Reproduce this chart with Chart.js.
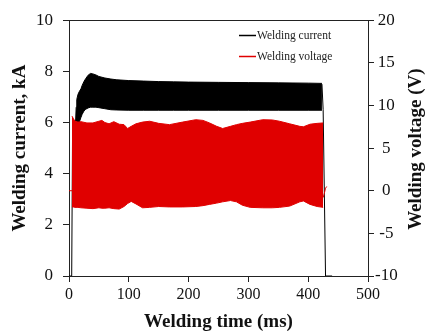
<!DOCTYPE html>
<html>
<head>
<meta charset="utf-8">
<script src="https://cdn.jsdelivr.net/npm/chart.js@4/dist/chart.umd.min.js"></script>
<style>
  html, body { margin: 0; padding: 0; background: #fff; }
  #wrap { width: 425px; height: 334px; }
</style>
</head>
<body>
<div id="wrap"><canvas id="c" width="425" height="334"></canvas></div>
<script>
// ---- Data (time in ms) ----
// Welding current (kA): envelope of the dense oscillation
const currentTime = [11, 12, 13, 15, 17, 20, 22, 25, 28, 32, 36, 40, 45, 50, 60, 70, 80, 100, 125, 150, 175, 200, 250, 300, 350, 400, 423];
const currentHigh = [6.05, 6.6, 6.9, 7.1, 7.2, 7.32, 7.45, 7.6, 7.72, 7.85, 7.92, 7.9, 7.86, 7.8, 7.74, 7.7, 7.67, 7.64, 7.62, 7.6, 7.59, 7.58, 7.57, 7.56, 7.55, 7.54, 7.53];
const currentLow  = [6.05, 6.04, 6.02, 6.0, 6.0, 6.2, 6.32, 6.45, 6.52, 6.57, 6.6, 6.6, 6.6, 6.58, 6.54, 6.5, 6.49, 6.48, 6.48, 6.48, 6.48, 6.48, 6.48, 6.48, 6.48, 6.48, 6.48];
// Current switch-on and switch-off edges
const currentRiseTime = [0, 4.5, 6, 8, 11];
const currentRise     = [0, 0, 5.8, 6.0, 6.05];
const currentFallTime = [423, 425, 429, 440];
const currentFall     = [7.5, 6.5, 0, 0];

// Welding voltage (V): envelope of the dense oscillation
const voltageTime = [5, 7, 10, 15, 20, 30, 40, 50, 55, 60, 67, 75, 84, 92, 98, 104, 112, 123, 135, 150, 168, 190, 212, 224, 235, 247, 257, 270, 280, 290, 303, 324, 340, 352, 369, 386, 392, 403, 415, 425];
const voltageHigh = [8.75, 8.5, 8.15, 8.05, 8.1, 7.95, 7.95, 8.15, 8.25, 8.0, 7.85, 8.1, 7.8, 7.75, 7.3, 7.55, 7.85, 8.05, 8.15, 7.9, 7.75, 8.05, 8.33, 8.25, 7.95, 7.55, 7.3, 7.55, 7.75, 7.9, 8.05, 8.33, 8.3, 8.15, 7.85, 7.55, 7.5, 7.8, 7.9, 7.95];
const voltageLow  = [-1.9, -1.9, -1.95, -1.95, -2.0, -2.05, -2.1, -2.0, -2.05, -2.05, -2.0, -2.1, -2.15, -1.85, -1.5, -1.25, -1.55, -2.0, -1.95, -1.85, -1.9, -1.9, -1.85, -1.75, -1.6, -1.45, -1.3, -1.15, -1.3, -1.7, -1.95, -2.0, -2.0, -1.95, -1.8, -1.3, -1.2, -1.6, -1.85, -1.95];
// Voltage before and after the weld
const voltageStartTime = [0, 5];
const voltageStart     = [0, 0];
const voltageEndTime   = [425, 427, 429, 431];
const voltageEnd       = [-0.8, -0.3, 0.3, 0.5];

// Axis ticks
const xTicks  = [0, 100, 200, 300, 400, 500];
const yTicks  = [0, 2, 4, 6, 8, 10];
const y1Ticks = [-10, -5, 0, 5, 10, 15, 20];

const legendLabels = ['Welding current', 'Welding voltage'];
const axisTitles = { x: 'Welding time (ms)', y: 'Welding current, kA', y1: 'Welding voltage (V)' };

// ---- Build chart ----
const pts = (xs, ys) => xs.map((x, i) => ({ x: x, y: ys[i] }));
const RED = '#e00000';
const BLACK = '#000000';
const SERIF = "'Liberation Serif', 'Times New Roman', serif";

const baseLine = { pointRadius: 0, borderWidth: 1, tension: 0 };

const datasets = [
  Object.assign({ label: 'voltHigh', data: pts(voltageTime, voltageHigh), yAxisID: 'y1', borderColor: RED, backgroundColor: RED, fill: '+1', order: 0 }, baseLine),
  Object.assign({ label: 'voltLow', data: pts(voltageTime, voltageLow), yAxisID: 'y1', borderColor: RED, fill: false, order: 0 }, baseLine),
  Object.assign({ label: 'voltStart', data: pts(voltageStartTime, voltageStart), yAxisID: 'y1', borderColor: RED, fill: false, order: 0 }, baseLine),
  Object.assign({ label: 'voltEnd', data: pts(voltageEndTime, voltageEnd), yAxisID: 'y1', borderColor: RED, fill: false, order: 0 }, baseLine),
  Object.assign({ label: 'curHigh', data: pts(currentTime, currentHigh), yAxisID: 'y', borderColor: BLACK, backgroundColor: BLACK, fill: '+1', order: 1 }, baseLine),
  Object.assign({ label: 'curLow', data: pts(currentTime, currentLow), yAxisID: 'y', borderColor: BLACK, fill: false, order: 1 }, baseLine),
  Object.assign({ label: 'curRise', data: pts(currentRiseTime, currentRise), yAxisID: 'y', borderColor: BLACK, fill: false, order: 1 }, baseLine),
  Object.assign({ label: 'curFall', data: pts(currentFallTime, currentFall), yAxisID: 'y', borderColor: BLACK, fill: false, order: 1 }, baseLine)
];

const decor = {
  id: 'decor',
  afterDraw(chart) {
    const ctx = chart.ctx;
    const a = chart.chartArea;
    ctx.save();
    // top frame line
    ctx.strokeStyle = '#222';
    ctx.lineWidth = 1;
    ctx.beginPath();
    ctx.moveTo(a.left, Math.round(a.top) + 0.5);
    ctx.lineTo(a.right, Math.round(a.top) + 0.5);
    ctx.stroke();
    // legend
    const items = [{ c: BLACK, y: 35 }, { c: RED, y: 56 }];
    ctx.font = '11.5px ' + SERIF;
    ctx.textBaseline = 'middle';
    ctx.textAlign = 'left';
    items.forEach((it, i) => {
      ctx.strokeStyle = it.c;
      ctx.lineWidth = 1.5;
      ctx.beginPath();
      ctx.moveTo(239, it.y + 0.5);
      ctx.lineTo(256, it.y + 0.5);
      ctx.stroke();
      ctx.fillStyle = '#222';
      ctx.fillText(legendLabels[i], 257, it.y + 1);
    });
    // right axis title (reads bottom to top)
    ctx.translate(416, (a.top + a.bottom) / 2 + 1);
    ctx.rotate(-Math.PI / 2);
    ctx.font = 'bold 19px ' + SERIF;
    ctx.textAlign = 'center';
    ctx.textBaseline = 'middle';
    ctx.fillStyle = '#111';
    ctx.fillText(axisTitles.y1, 0, 0);
    ctx.restore();
  }
};

const gridOpts = { display: true, drawOnChartArea: false, drawTicks: true, tickLength: 6, color: '#222', lineWidth: 1 };
const borderOpts = { display: true, color: '#222', width: 1 };
const tickFont = (s) => ({ family: SERIF, size: s });

new Chart(document.getElementById('c'), {
  type: 'line',
  data: { datasets: datasets },
  plugins: [decor],
  options: {
    responsive: false,
    animation: false,
    devicePixelRatio: 1,
    layout: { padding: { top: 18, left: 0, right: 0, bottom: 0 } },
    plugins: { legend: { display: false }, tooltip: { enabled: false } },
    scales: {
      x: {
        type: 'linear', position: 'bottom', min: 0, max: 500,
        afterBuildTicks: (s) => { s.ticks = xTicks.map(v => ({ value: v })); },
        ticks: { color: '#111', font: tickFont(16), padding: 3, maxRotation: 0 },
        grid: gridOpts, border: borderOpts,
        title: { display: true, text: axisTitles.x, color: '#111', font: { family: SERIF, size: 19, weight: 'bold' }, padding: { top: 0, bottom: 1 } },
        afterFit: (s) => { s.height = 58; }
      },
      y: {
        type: 'linear', position: 'left', min: 0, max: 10,
        afterBuildTicks: (s) => { s.ticks = yTicks.map(v => ({ value: v })); },
        ticks: { color: '#111', font: tickFont(17), padding: 10 },
        grid: gridOpts, border: borderOpts,
        title: { display: true, text: axisTitles.y, color: '#111', font: { family: SERIF, size: 19, weight: 'bold' }, padding: { top: 9, bottom: 0 } },
        afterFit: (s) => { s.width = 69; }
      },
      y1: {
        type: 'linear', position: 'right', min: -10, max: 20,
        afterBuildTicks: (s) => { s.ticks = y1Ticks.map(v => ({ value: v })); },
        ticks: { color: '#111', font: tickFont(17), padding: 1, crossAlign: 'center' },
        grid: gridOpts, border: borderOpts,
        afterFit: (s) => { s.width = 57; }
      }
    }
  }
});
</script>
</body>
</html>
